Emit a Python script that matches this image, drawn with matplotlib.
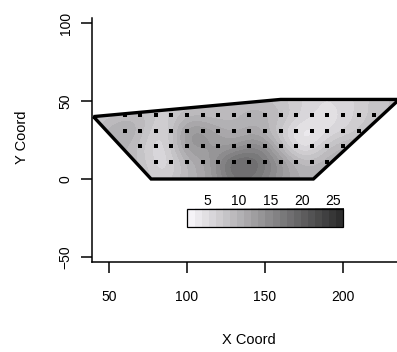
import numpy as np
import matplotlib
matplotlib.use("Agg")
import matplotlib.pyplot as plt
from matplotlib.patches import Polygon, Rectangle
from matplotlib.colors import LinearSegmentedColormap

plt.rcParams['font.family'] = ['Liberation Sans', 'DejaVu Sans']

# surface values (grid x 40..235 step 15, y 0..50 step 10)
grid_x = [40, 55, 70, 85, 100, 115, 130, 145, 160, 175, 190, 205, 220, 235]
grid_y = [0, 10, 20, 30, 40, 50]
surface = [
    [10, 10, 9, 6, 10, 12, 18, 17, 13, 10, 11, 11, 11, 11],
    [9, 10, 9, 4, 10, 12, 21, 19, 14, 9, 11, 11, 11, 11],
    [8, 11, 8, 4, 14, 13, 13, 17, 10, 3, 9, 11, 10, 10],
    [8, 12, 10, 4, 15, 13, 10, 12, 7, 2, 5, 7, 9, 10],
    [7, 9, 10, 6, 10, 9, 9, 11, 9, 6, 4, 6, 8, 9],
    [7, 7, 7, 7, 8, 8, 9, 9, 8, 6, 5, 6, 8, 9],
]

# study area outline
border_x = [40, 77, 181, 236, 160]
border_y = [40, 0, 0, 51, 51]

# sample locations, one list per row
row_y = [41, 31, 21, 11]
row_x = [
    list(range(60, 230, 10)),
    list(range(60, 220, 10)),
    list(range(70, 210, 10)),
    list(range(80, 200, 10)),
]

legend_ticks = [5, 10, 15, 20, 25]
vmin, vmax = 1.85, 26.5

cmap = LinearSegmentedColormap.from_list("grey", ["#f5f3f7", "#2e2e2e"], N=22)

W, H = 397, 352
fig = plt.figure(figsize=(W / 100, H / 100), dpi=100)
ax = fig.add_axes([92 / W, 1 - 262 / H, 1 - 92 / W, (262 - 18) / H])

# interpolated surface clipped to the outline
dx = (grid_x[1] - grid_x[0]) / 2
dy = (grid_y[1] - grid_y[0]) / 2
img = ax.imshow(np.array(surface, dtype=float), origin='lower', cmap=cmap,
                vmin=vmin, vmax=vmax, interpolation='bicubic', aspect='auto',
                extent=[grid_x[0] - dx, grid_x[-1] + dx, grid_y[0] - dy, grid_y[-1] + dy])
poly = Polygon(list(zip(border_x, border_y)), closed=True, fill=False,
               edgecolor='black', linewidth=2.4, zorder=3)
ax.add_patch(poly)
img.set_clip_path(poly)

for y, xs in zip(row_y, row_x):
    ax.plot(xs, [y] * len(xs), linestyle='none', marker='s', markersize=2.6,
            markeredgewidth=0, color='black', zorder=4)

# legend bar
bar_x0, bar_x1, bar_y0, bar_y1 = 100, 200, -31, -19
vals = np.linspace(vmin, vmax, 200).reshape(1, -1)
ax.imshow(vals, cmap=cmap, vmin=vmin, vmax=vmax, aspect='auto',
          extent=[bar_x0, bar_x1, bar_y0, bar_y1], interpolation='nearest', zorder=3)
ax.add_patch(Rectangle((bar_x0, bar_y0), bar_x1 - bar_x0, bar_y1 - bar_y0,
                       fill=False, edgecolor='black', linewidth=0.9, zorder=4))
for t in legend_ticks:
    xt = bar_x0 + (t - vmin) / (vmax - vmin) * (bar_x1 - bar_x0)
    ax.text(xt, bar_y1 + 0.3, str(t), ha='center', va='bottom', fontsize=10)

ax.set_xlim(39.1, 234.6)
ax.set_ylim(-53.2, 103.2)

ax.spines['top'].set_visible(False)
ax.spines['right'].set_visible(False)
ax.spines['left'].set_linewidth(1.1)
ax.spines['bottom'].set_linewidth(1.1)

ax.set_xticks([50, 100, 150, 200])
ax.set_yticks([-50, 0, 50, 100])
ax.tick_params(axis='both', direction='out', length=8, width=1.1, labelsize=10)
ax.tick_params(axis='x', pad=12)
ax.tick_params(axis='y', pad=6)
for lbl in ax.get_yticklabels():
    lbl.set_rotation(90)
    lbl.set_va('center')

fig.text(22 / W, 1 - 137 / H, "Y Coord", rotation=90, ha='center', va='center', fontsize=10.5)
fig.text(249 / W, 1 - 340 / H, "X Coord", ha='center', va='center', fontsize=10.5)

fig.savefig("out.png", dpi=100)
